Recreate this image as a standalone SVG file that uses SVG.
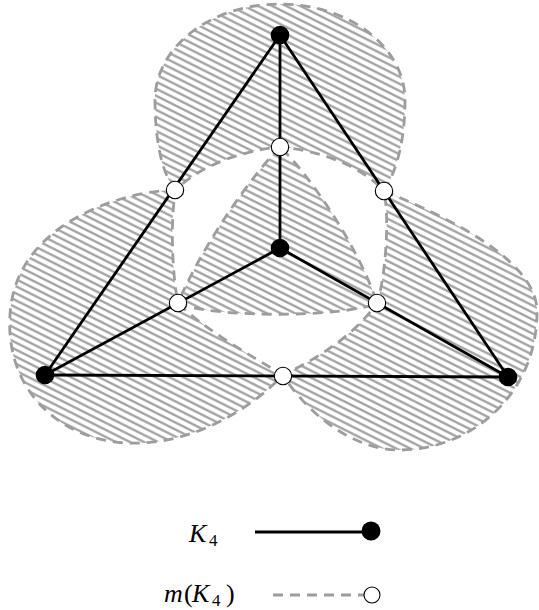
<svg xmlns="http://www.w3.org/2000/svg" width="539" height="610" viewBox="0 0 539 610">
<style>
.blob{fill:url(#hatch);stroke:#9d9d9d;stroke-width:2.8;stroke-dasharray:10 7}
.edge{stroke:#000;stroke-width:2.8;fill:none}
.kv{fill:#000}
.mv{fill:#fff;stroke:#000;stroke-width:1.1}
.lbl{font-family:"Liberation Serif",serif;font-style:italic;font-size:26px;fill:#000}
.sub{font-family:"Liberation Serif",serif;font-size:17px;fill:#000}
.up{font-family:"Liberation Serif",serif;font-size:26px;fill:#000}
</style>
<defs>
<pattern id="hatch" patternUnits="userSpaceOnUse" width="12" height="6.3" patternTransform="rotate(26.6)">
<line x1="0" y1="3.15" x2="12" y2="3.15" stroke="#9d9d9d" stroke-width="2.2"/>
</pattern>
</defs>
<g id="regions">
<path id="blob-top" class="blob" d="M176,190 C162,176 155,140 155,100 C155,47 211,4 280,4 C349,4 405,47 405,100 C405,140 397,170 384,191 C360,165 318,150 280,147 C245,150 200,165 176,190 Z"/>
<path id="blob-center" class="blob" d="M280,147 C255,172 205,240 178,303 C210,318 345,318 377,303 C360,250 310,175 280,147 Z"/>
<path id="blob-left" class="blob" d="M176,190 C130,190 15,220 10,315 C5,390 60,440 127,443 C190,446 250,410 283,375 C250,355 205,330 178,303 C172,275 170,215 176,190 Z"/>
<path id="blob-right" class="blob" d="M384,191 C430,210 535,255 537,310 C538,395 470,450 400,450 C350,450 305,410 283,375 C315,360 355,335 377,303 C385,280 390,220 384,191 Z"/>
</g>
<g id="connectors">
<line class="edge" x1="280" y1="35" x2="45" y2="375"/>
<line class="edge" x1="280" y1="35" x2="508" y2="377"/>
<line class="edge" x1="280" y1="35" x2="280" y2="248"/>
<line class="edge" x1="280" y1="248" x2="45" y2="375"/>
<line class="edge" x1="280" y1="248" x2="508" y2="377"/>
<line class="edge" x1="45" y1="375" x2="508" y2="377"/>
</g>
<g id="node-T"><circle class="kv" cx="280" cy="35" r="9.3"/></g>
<g id="node-C"><circle class="kv" cx="280" cy="248" r="9.3"/></g>
<g id="node-L"><circle class="kv" cx="45" cy="375" r="9.3"/></g>
<g id="node-R"><circle class="kv" cx="508" cy="377" r="9.3"/></g>
<g id="node-A"><circle class="mv" cx="175" cy="190" r="8.7"/></g>
<g id="node-B"><circle class="mv" cx="280" cy="147" r="8.7"/></g>
<g id="node-D"><circle class="mv" cx="384" cy="191" r="8.7"/></g>
<g id="node-E"><circle class="mv" cx="178" cy="303" r="8.7"/></g>
<g id="node-F"><circle class="mv" cx="377" cy="303" r="8.7"/></g>
<g id="node-G"><circle class="mv" cx="283" cy="376" r="8.7"/></g>
<g id="legend">
<text class="lbl" x="189" y="542">K</text><text class="sub" x="209" y="546">4</text>
<line class="edge" x1="255" y1="532" x2="371" y2="532"/>
<circle class="kv" cx="371" cy="531" r="9.5"/>
<text class="lbl" x="164" y="602">m</text><text class="up" x="184" y="602">(</text><text class="lbl" x="192" y="602">K</text><text class="sub" x="212" y="606">4</text><text class="up" x="226" y="602">)</text>
<line x1="273" y1="595" x2="364" y2="595" stroke="#9d9d9d" stroke-width="2.8" stroke-dasharray="10 7"/>
<circle class="mv" cx="372" cy="595" r="8"/>
</g>
</svg>
